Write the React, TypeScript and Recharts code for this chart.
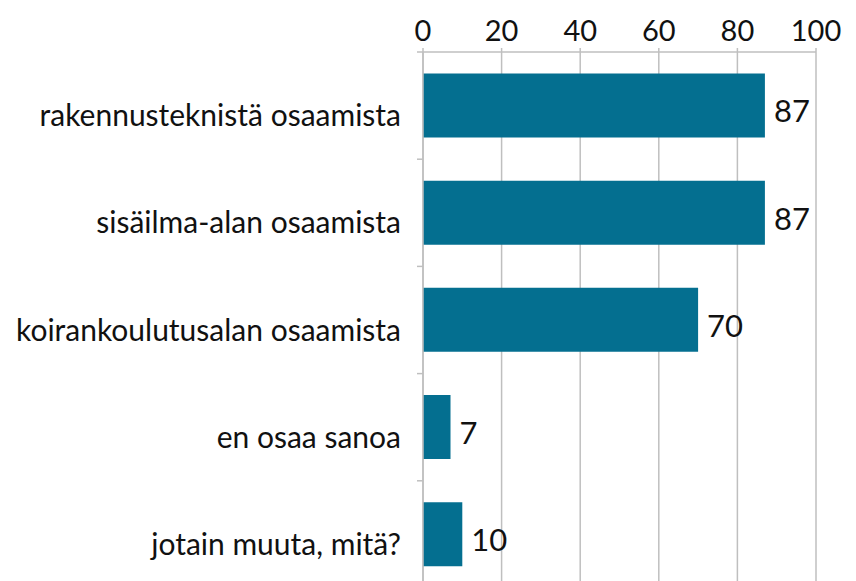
import { BarChart, Bar, XAxis, YAxis, CartesianGrid, LabelList } from 'recharts'

const categories = [
  'rakennusteknistä osaamista',
  'sisäilma-alan osaamista',
  'koirankoulutusalan osaamista',
  'en osaa sanoa',
  'jotain muuta, mitä?',
]
const values = [87, 87, 70, 7, 10]
const xTicks = [0, 20, 40, 60, 80, 100]

const data = categories.map((name, i) => ({ name, value: values[i] }))

const FONT = 'Lato, "Open Sans", sans-serif'
const GRID = '#bfbfbf'
const TICK_SIZE = 6
const TICK_MARGIN = 16

// category label plus an Excel-style tick mark at the band boundary
function CategoryTick(props: any) {
  const { x, y, payload, index, visibleTicksCount } = props
  const half = payload.offset || 0
  const edge = x + TICK_MARGIN + TICK_SIZE
  return (
    <g>
      <line x1={edge - TICK_SIZE} x2={edge} y1={y - half} y2={y - half} stroke={GRID} strokeWidth={1.5} />
      {index === visibleTicksCount - 1 && (
        <line x1={edge - TICK_SIZE} x2={edge} y1={y + half} y2={y + half} stroke={GRID} strokeWidth={1.5} />
      )}
      <text x={x} y={y + 10} dy="0.355em" textAnchor="end" fontSize={30} fill="#111" fontFamily={FONT}>
        {payload.value}
      </text>
    </g>
  )
}

export default function App() {
  return (
    <div style={{ position: 'absolute', left: 0, top: 0, background: '#fff' }}>
      <BarChart
        width={856}
        height={600}
        data={data}
        layout="vertical"
        barCategoryGap="20%"
        margin={{ top: 0, right: 40, left: 0, bottom: 12 }}
      >
        <CartesianGrid horizontal={false} stroke={GRID} strokeWidth={1.5} />
        <XAxis
          type="number"
          orientation="top"
          domain={[0, 100]}
          ticks={xTicks}
          height={52}
          axisLine={{ stroke: GRID, strokeWidth: 1.5 }}
          tickLine={{ stroke: GRID, strokeWidth: 1.5 }}
          tickSize={4}
          tickMargin={7}
          tick={{ fontSize: 29, fill: '#111', fontFamily: FONT }}
        />
        <YAxis
          type="category"
          dataKey="name"
          width={423}
          axisLine={{ stroke: GRID, strokeWidth: 1.5 }}
          tickLine={false}
          tickSize={TICK_SIZE}
          tickMargin={TICK_MARGIN}
          tick={<CategoryTick />}
        />
        <Bar dataKey="value" fill="#046f90" isAnimationActive={false}>
          <LabelList
            dataKey="value"
            position="right"
            offset={9}
            dy={6}
            style={{ fontSize: 31, fill: '#111', fontFamily: FONT }}
          />
        </Bar>
      </BarChart>
    </div>
  )
}
